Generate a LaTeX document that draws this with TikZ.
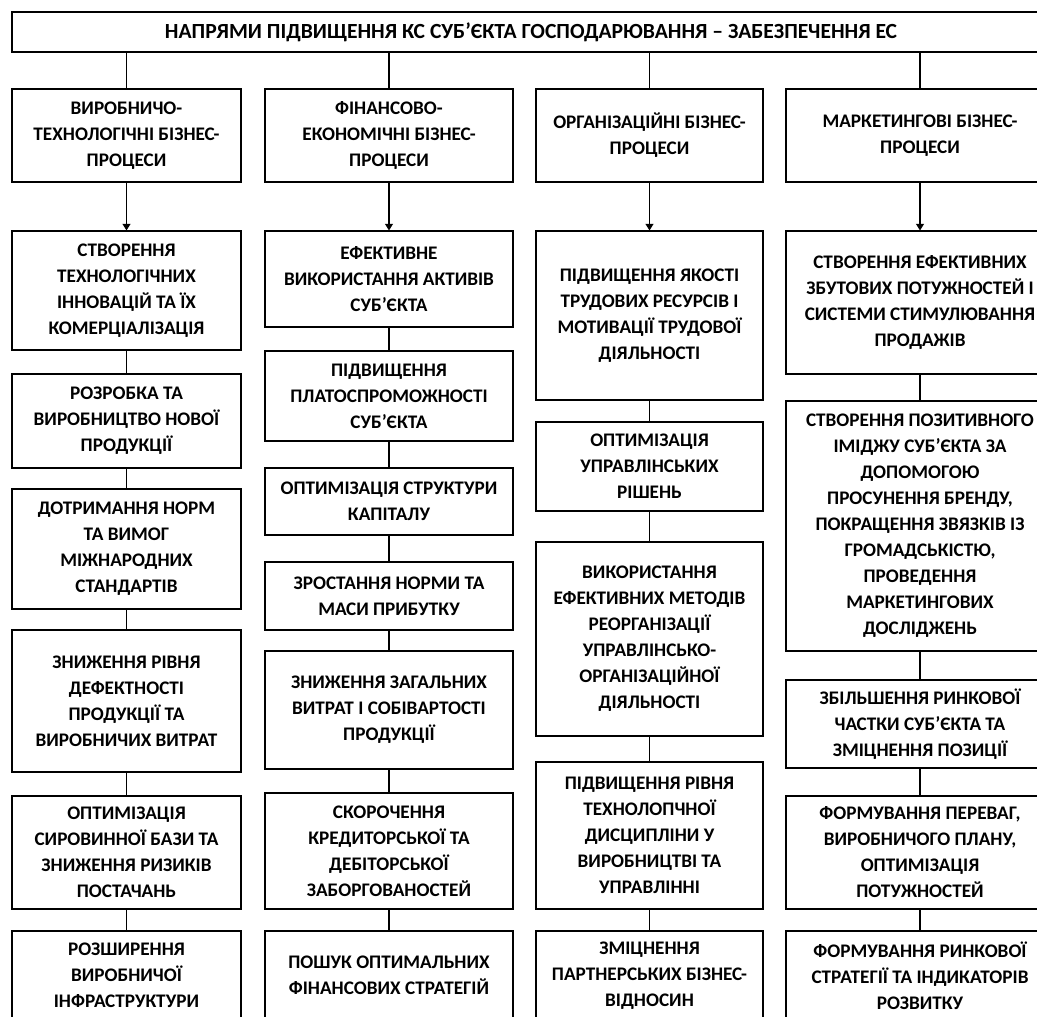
\documentclass[tikz,border=0pt]{standalone}
\usepackage{fontspec}
\setmainfont{Carlito}
\usetikzlibrary{arrows.meta}
\begin{document}
\begin{tikzpicture}[x=0.75pt, y=-0.75pt,
    box/.style={draw, line width=0.8pt, inner sep=0pt, align=center,
      font=\bfseries\fontsize{14.4pt}{19.5pt}\selectfont},
    link/.style={line width=0.8pt},
    arr/.style={line width=0.8pt, -{Triangle[length=5pt, width=6pt]}}]
  \useasboundingbox (0,0) rectangle (1037,1016);
  \clip (0,0) rectangle (1037,1016);
  \fill[white] (0,0) rectangle (1037,1016);
  % title
  \node[box, font=\bfseries\fontsize{16.2pt}{19.5pt}\selectfont, minimum width=778.5pt, minimum height=30pt] (top) at (531,32)
    {НАПРЯМИ ПІДВИЩЕННЯ КС СУБ’ЄКТА ГОСПОДАРЮВАННЯ – ЗАБЕЗПЕЧЕННЯ ЕС};
  % process headers
  \foreach \xa/\xb/\lbl [count=\n] in {12/241/{ВИРОБНИЧО-\\ТЕХНОЛОГІЧНІ БІЗНЕС-\\ПРОЦЕСИ},
      265/513/{ФІНАНСОВО-\\ЕКОНОМІЧНІ БІЗНЕС-\\ПРОЦЕСИ},
      536/763/{ОРГАНІЗАЦІЙНІ БІЗНЕС-\\ПРОЦЕСИ},
      786/1054/{МАРКЕТИНГОВІ БІЗНЕС-\\ПРОЦЕСИ}} {
    \node[box, minimum width={(\xb-\xa)*0.75pt}, minimum height=69.75pt] (h\n) at ({(\xa+\xb)/2},135.5) {\lbl};
    \draw[link] (top.south -| h\n) -- (h\n);
  }
  % column 1
  \foreach \ya/\yb/\lbl [count=\i] in {231/350/{СТВОРЕННЯ\\ТЕХНОЛОГІЧНИХ\\ІННОВАЦІЙ ТА ЇХ\\КОМЕРЦІАЛІЗАЦІЯ},
      374/468/{РОЗРОБКА ТА\\ВИРОБНИЦТВО НОВОЇ\\ПРОДУКЦІЇ},
      489/609/{ДОТРИМАННЯ НОРМ\\ТА ВИМОГ\\МІЖНАРОДНИХ\\СТАНДАРТІВ},
      630/772/{ЗНИЖЕННЯ РІВНЯ\\ДЕФЕКТНОСТІ\\ПРОДУКЦІЇ ТА\\ВИРОБНИЧИХ ВИТРАТ},
      796/909/{ОПТИМІЗАЦІЯ\\СИРОВИННОЇ БАЗИ ТА\\ЗНИЖЕННЯ РИЗИКІВ\\ПОСТАЧАНЬ},
      931/1020/{РОЗШИРЕННЯ\\ВИРОБНИЧОЇ\\ІНФРАСТРУКТУРИ}} {
    \node[box, minimum width=171.75pt, minimum height={(\yb-\ya)*0.75pt}] (p1-\i) at (126.5,{(\ya+\yb)/2}) {\lbl};
  }
  % column 2
  \foreach \ya/\yb/\lbl [count=\i] in {231/327/{ЕФЕКТИВНЕ\\ВИКОРИСТАННЯ АКТИВІВ\\СУБ’ЄКТА},
      351/441/{ПІДВИЩЕННЯ\\ПЛАТОСПРОМОЖНОСТІ\\СУБ’ЄКТА},
      468/535/{ОПТИМІЗАЦІЯ СТРУКТУРИ\\КАПІТАЛУ},
      562/630/{ЗРОСТАННЯ НОРМИ ТА\\МАСИ ПРИБУТКУ},
      651/769/{ЗНИЖЕННЯ ЗАГАЛЬНИХ\\ВИТРАТ І СОБІВАРТОСТІ\\ПРОДУКЦІЇ},
      793/909/{СКОРОЧЕННЯ\\КРЕДИТОРСЬКОЇ ТА\\ДЕБІТОРСЬКОЇ\\ЗАБОРГОВАНОСТЕЙ},
      931/1020/{ПОШУК ОПТИМАЛЬНИХ\\ФІНАНСОВИХ СТРАТЕГІЙ}} {
    \node[box, minimum width=186pt, minimum height={(\yb-\ya)*0.75pt}] (p2-\i) at (389,{(\ya+\yb)/2}) {\lbl};
  }
  % column 3
  \foreach \ya/\yb/\lbl [count=\i] in {231/400/{ПІДВИЩЕННЯ ЯКОСТІ\\ТРУДОВИХ РЕСУРСІВ І\\МОТИВАЦІЇ ТРУДОВОЇ\\ДІЯЛЬНОСТІ},
      422/511/{ОПТИМІЗАЦІЯ\\УПРАВЛІНСЬКИХ\\РІШЕНЬ},
      542/736/{ВИКОРИСТАННЯ\\ЕФЕКТИВНИХ МЕТОДІВ\\РЕОРГАНІЗАЦІЇ\\УПРАВЛІНСЬКО-\\ОРГАНІЗАЦІЙНОЇ\\ДІЯЛЬНОСТІ},
      762/909/{ПІДВИЩЕННЯ РІВНЯ\\ТЕХНОЛОПЧНОЇ\\ДИСЦИПЛІНИ У\\ВИРОБНИЦТВІ ТА\\УПРАВЛІННІ},
      931/1020/{ЗМІЦНЕННЯ\\ПАРТНЕРСЬКИХ БІЗНЕС-\\ВІДНОСИН}} {
    \node[box, minimum width=170.25pt, minimum height={(\yb-\ya)*0.75pt}] (p3-\i) at (649.5,{(\ya+\yb)/2}) {\lbl};
  }
  % column 4
  \foreach \ya/\yb/\lbl [count=\i] in {231/374/{СТВОРЕННЯ ЕФЕКТИВНИХ\\ЗБУТОВИХ ПОТУЖНОСТЕЙ І\\СИСТЕМИ СТИМУЛЮВАННЯ\\ПРОДАЖІВ},
      401/651/{СТВОРЕННЯ ПОЗИТИВНОГО\\ІМІДЖУ СУБ’ЄКТА ЗА\\ДОПОМОГОЮ\\ПРОСУНЕННЯ БРЕНДУ,\\ПОКРАЩЕННЯ ЗВЯЗКІВ ІЗ\\ГРОМАДСЬКІСТЮ,\\ПРОВЕДЕННЯ\\МАРКЕТИНГОВИХ\\ДОСЛІДЖЕНЬ},
      680/768/{ЗБІЛЬШЕННЯ РИНКОВОЇ\\ЧАСТКИ СУБ’ЄКТА ТА\\ЗМІЦНЕННЯ ПОЗИЦІЇ},
      796/909/{ФОРМУВАННЯ ПЕРЕВАГ,\\ВИРОБНИЧОГО ПЛАНУ,\\ОПТИМІЗАЦІЯ\\ПОТУЖНОСТЕЙ},
      931/1020/{ФОРМУВАННЯ РИНКОВОЇ\\СТРАТЕГІЇ ТА ІНДИКАТОРІВ\\РОЗВИТКУ}} {
    \node[box, minimum width=201pt, minimum height={(\yb-\ya)*0.75pt}] (p4-\i) at (920,{(\ya+\yb)/2}) {\lbl};
  }
  % arrows and links
  \foreach \c/\nb in {1/6, 2/7, 3/5, 4/5} {
    \draw[arr] (h\c) -- (p\c-1);
    \foreach \i in {2,...,\nb} {
      \pgfmathtruncatemacro{\k}{\i-1}
      \draw[link] (p\c-\k) -- (p\c-\i);
    }
  }
\end{tikzpicture}
\end{document}
